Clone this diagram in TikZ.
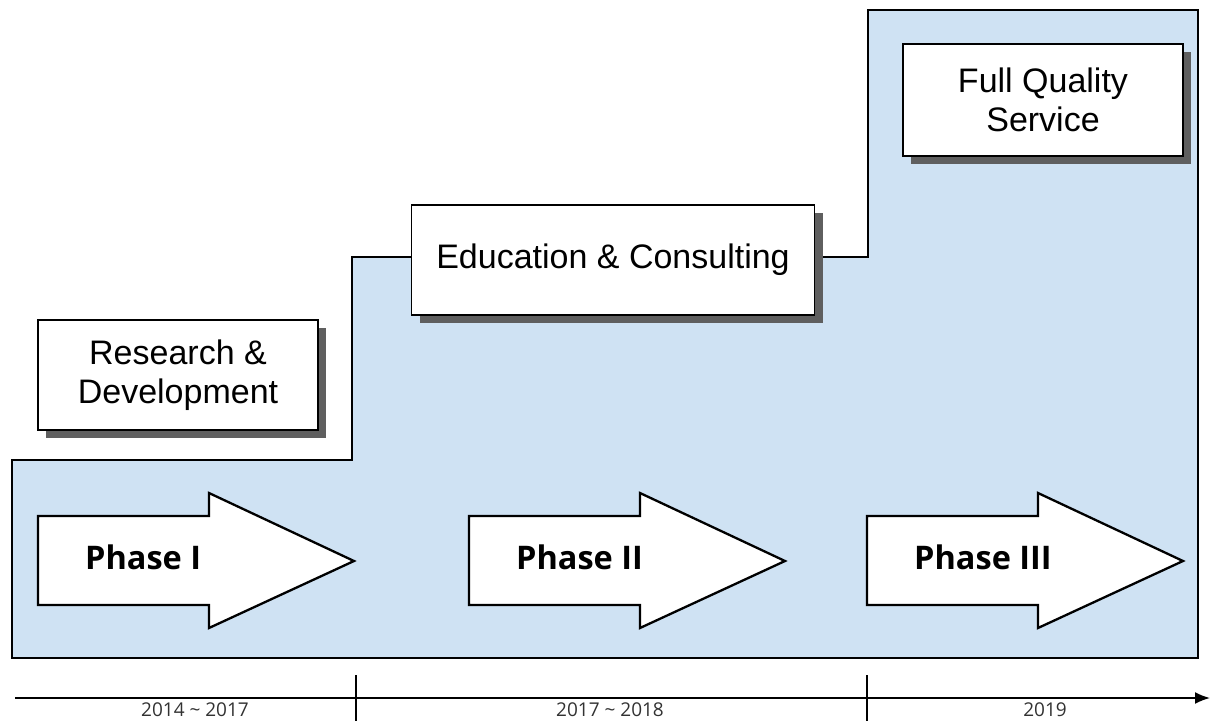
\documentclass[tikz,border=0pt]{standalone}
\usepackage{fontspec}
\setmainfont{Liberation Sans}
\newfontfamily\phasefont{Open Sans}
\newfontfamily\yearfont{Open Sans}
\usetikzlibrary{shadows,arrows.meta}
\definecolor{stepblue}{RGB}{207,226,243}
\definecolor{shadowgray}{RGB}{95,95,95}
\definecolor{yeargray}{RGB}{50,50,50}
\tikzset{
  stagebox/.style={draw=black, line width=1.3pt, fill=white, align=center,
    font=\fontsize{34}{39}\selectfont,
    drop shadow={shadow xshift=8pt, shadow yshift=-8pt, fill=shadowgray, opacity=1}},
  phasearrow/.style={draw=black, line width=2.3pt, fill=white, line join=miter},
  phaselabel/.style={font=\phasefont\bfseries\fontsize{32.5}{36}\selectfont},
  yearlabel/.style={font=\yearfont\fontsize{19}{22}\selectfont, text=yeargray}
}

\begin{document}
\begin{tikzpicture}[x=1pt,y=-1pt]
  \useasboundingbox (0,0) rectangle (1211,721);
  % the three steps
  \draw[fill=stepblue, line width=2.3pt] (12,658) -- (12,460) -- (352,460) -- (352,257)
    -- (868,257) -- (868,10) -- (1198,10) -- (1198,658) -- cycle;

  \node[stagebox, minimum width=280pt, minimum height=110pt] (rd) at (178,375) {Research \&\\Development};
  \node[stagebox, minimum width=403pt, minimum height=110pt] (edu) at (613,260) {Education \& Consulting};
  \node[stagebox, minimum width=280pt, minimum height=112pt] (fqs) at (1043,100) {Full Quality\\Service};

  % phase arrows
  \foreach \x/\name/\lab in {38/ph1/Phase I, 469/ph2/Phase II, 867/ph3/Phase III} {
    \draw[phasearrow] (\x,516) -- (\x+171,516) -- (\x+171,493) -- (\x+316,561)
      -- (\x+171,628) -- (\x+171,605) -- (\x,605) -- cycle;
    \node[phaselabel, anchor=base west, inner sep=0pt] (\name) at (\x+47,569) {\lab};
  }

  % time axis
  \coordinate (axl) at (15,698);
  \coordinate (axr) at (1210,698);
  \draw[line width=1.8pt, -{Latex[length=15pt,width=12pt]}] (axl) -- (axr);
  \foreach \t in {356,867}
    \draw[line width=1.8pt] (\t,675) -- (\t,721);
  \node[yearlabel, anchor=base] (yr1) at (195,716) {2014 \textasciitilde{} 2017};
  \node[yearlabel, anchor=base] (yr2) at (610,716) {2017 \textasciitilde{} 2018};
  \node[yearlabel, anchor=base] (yr3) at (1045,716) {2019};
\end{tikzpicture}
\end{document}
